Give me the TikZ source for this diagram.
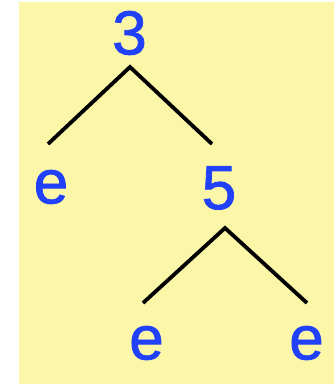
\documentclass[tikz,border=0pt]{standalone}
\usepackage{fontspec}
\setmainfont{Liberation Sans}
\newfontfamily\keyfont[FakeBold=1.3]{Liberation Sans}
\definecolor{panel}{RGB}{252,247,168}
\definecolor{keyblue}{RGB}{32,64,250}
\begin{document}
\begin{tikzpicture}[x=1pt,y=-1pt,
  key/.style={text=keyblue,inner sep=0pt,font=\keyfont\fontsize{62}{62}\selectfont},
  branch/.style={line width=3.8pt,line join=miter,line cap=butt}]
  \useasboundingbox (0,0) rectangle (334,385);
  \fill[panel] (19,2) rectangle (334,384);
  % tree nodes
  \node[key] (root) at (129.5,33) {3};
  \node[key] (l)    at (51,187)   {e};
  \node[key] (r)    at (219,188)  {5};
  \node[key] (rl)   at (146.5,343) {e};
  \node[key] (rr)   at (306.5,343) {e};
  % branch points
  \coordinate (rootfork) at (130,67);
  \coordinate (lend)     at (48,144);
  \coordinate (rend)     at (212,144);
  \coordinate (rfork)    at (225,228);
  \coordinate (rlend)    at (143,303);
  \coordinate (rrend)    at (307,303);
  \draw[branch] (lend) -- (rootfork) -- (rend);
  \draw[branch] (rlend) -- (rfork) -- (rrend);
\end{tikzpicture}
\end{document}
